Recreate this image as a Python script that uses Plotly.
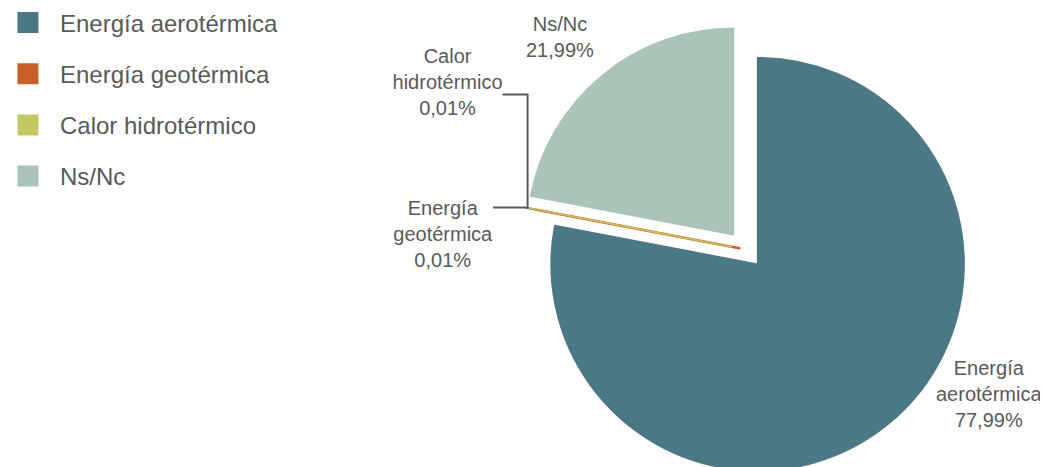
import plotly.graph_objects as go

categories = ["Energía aerotérmica", "Energía geotérmica", "Calor hidrotérmico", "Ns/Nc"]
label_text = ["Energía<br>aerotérmica", "Energía<br>geotérmica", "Calor<br>hidrotérmico", "Ns/Nc"]
values = [77.99, 0.01, 0.01, 21.99]
colors = ["#4A7885", "#C8602A", "#C5C860", "#AAC4B8"]
pulls = [0.092, 0.03, 0.07, 0.092]
text_positions = ["none", "outside", "outside", "none"]
# blank lines added above / below the outside labels to space them like the original
pad_above = [0, 2, 0, 0]
pad_below = [0, 0, 1, 0]

FONT = "Liberation Sans, Arial, sans-serif"
TXT = "#595959"
BLANK = "\u00a0<br>"

customdata = [[BLANK * a, "<br>\u00a0" * b] for a, b in zip(pad_above, pad_below)]

fig = go.Figure()
fig.add_trace(go.Pie(
    labels=categories,
    values=values,
    text=label_text,
    customdata=customdata,
    texttemplate="%{customdata[0]}%{text}<br>%{percent:.2%}%{customdata[1]}",
    textposition=text_positions,
    automargin=False,
    textfont=dict(family=FONT, size=20, color=TXT),
    marker=dict(colors=colors, line=dict(color=colors, width=[1.5, 2.5, 1.5, 1.5])),
    pull=pulls,
    sort=False,
    direction="clockwise",
    rotation=0,
    showlegend=False,
    domain=dict(x=[0.48855, 0.91889], y=[0, 1]),
    hoverinfo="label+percent",
))

for i, (name, col) in enumerate(zip(categories, colors)):
    fig.add_trace(go.Scatter(
        x=[None], y=[None], mode="markers", name=name,
        legendgroup=f"g{i}",
        marker=dict(symbol="square", size=16, color=col, line=dict(color=col, width=5)),
        showlegend=True,
    ))

# labels of the two large slices, placed where the original shows them
total = sum(values)


def pct(v):
    return f"{v / total * 100:.2f}".replace(".", ",") + "%"


big_label_pos = {0: (981 / 1048, 1 - (386 - 16) / 451), 3: (552 / 1048, 1 - (29 - 16) / 451)}
for idx, (px, py) in big_label_pos.items():
    fig.add_annotation(
        text=f"{label_text[idx]}<br>{pct(values[idx])}",
        xref="paper", yref="paper", x=px, y=py,
        xanchor="center", yanchor="middle",
        showarrow=False, align="center",
        font=dict(family=FONT, size=20, color=TXT),
    )

fig.update_layout(
    width=1048, height=467,
    margin=dict(l=0, r=0, t=16, b=0, autoexpand=False),
    paper_bgcolor="white", plot_bgcolor="white",
    separators=",.",
    font=dict(family=FONT, color=TXT),
    xaxis=dict(visible=False), yaxis=dict(visible=False),
    legend=dict(
        x=-0.0115, y=1 + (16 + 7.6) / 451, xanchor="left", yanchor="top",
        font=dict(family=FONT, size=24, color=TXT),
        tracegroupgap=17,
        itemwidth=54,
        bgcolor="rgba(0,0,0,0)",
    ),
)

fig.write_html("out.html")
